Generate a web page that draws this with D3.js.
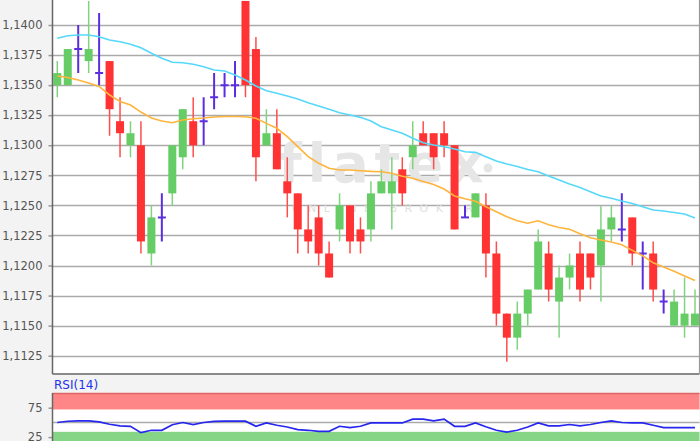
<!DOCTYPE html>
<html>
<head>
<meta charset="utf-8">
<script src="https://cdn.jsdelivr.net/npm/d3@7"></script>
<style>
  body { margin: 0; background: #f3f3f3; }
  svg { display: block; font-family: "DejaVu Sans", Verdana, sans-serif; }
</style>
</head>
<body>
<div id="chart"></div>
<script>
// candles (EUR/USD daily)
const opens  = [1.1350,1.1350,1.1380,1.1370,1.1360,1.1370,1.1320,1.1300,1.1300,1.1210,
                1.1240,1.1260,1.1290,1.1320,1.1320,1.1340,1.1350,1.1350,1.1420,1.1380,
                1.1300,1.1310,1.1270,1.1260,1.1230,1.1240,1.1210,1.1230,1.1250,1.1230,
                1.1230,1.1260,1.1260,1.1280,1.1290,1.1310,1.1310,1.1310,1.1300,1.1240,
                1.1240,1.1250,1.1210,1.1160,1.1140,1.1160,1.1180,1.1210,1.1170,1.1190,
                1.1210,1.1210,1.1200,1.1230,1.1230,1.1240,1.1210,1.1210,1.1170,1.1150,
                1.1150,1.1150];
const highs  = [1.1370,1.1380,1.1400,1.1420,1.1410,1.1370,1.1340,1.1320,1.1320,1.1250,
                1.1260,1.1300,1.1330,1.1340,1.1340,1.1360,1.1360,1.1370,1.1420,1.1390,
                1.1330,1.1330,1.1290,1.1260,1.1250,1.1250,1.1220,1.1260,1.1250,1.1240,
                1.1270,1.1280,1.1290,1.1290,1.1320,1.1320,1.1310,1.1320,1.1300,1.1250,
                1.1260,1.1260,1.1220,1.1160,1.1170,1.1180,1.1230,1.1220,1.1200,1.1210,
                1.1220,1.1210,1.1250,1.1250,1.1260,1.1240,1.1220,1.1220,1.1180,1.1180,
                1.1190,1.1180];
const lows   = [1.1340,1.1350,1.1360,1.1360,1.1350,1.1308,1.1290,1.1290,1.1210,1.1200,
                1.1220,1.1250,1.1280,1.1290,1.1300,1.1330,1.1340,1.1340,1.1340,1.1270,
                1.1300,1.1280,1.1240,1.1210,1.1210,1.1200,1.1190,1.1220,1.1210,1.1210,
                1.1220,1.1260,1.1230,1.1250,1.1280,1.1300,1.1280,1.1290,1.1230,1.1240,
                1.1240,1.1190,1.1150,1.1120,1.1130,1.1150,1.1180,1.1170,1.1140,1.1180,
                1.1170,1.1180,1.1170,1.1220,1.1220,1.1200,1.1180,1.1170,1.1160,1.1150,
                1.1140,1.1150];
const closes = [1.1360,1.1380,1.1380,1.1380,1.1360,1.1330,1.1310,1.1310,1.1220,1.1240,
                1.1240,1.1300,1.1330,1.1300,1.1320,1.1340,1.1350,1.1350,1.1350,1.1290,
                1.1310,1.1280,1.1260,1.1230,1.1220,1.1210,1.1190,1.1250,1.1220,1.1220,
                1.1260,1.1270,1.1270,1.1260,1.1300,1.1300,1.1290,1.1300,1.1230,1.1240,
                1.1260,1.1210,1.1160,1.1140,1.1160,1.1180,1.1220,1.1180,1.1190,1.1200,
                1.1180,1.1190,1.1230,1.1240,1.1230,1.1210,1.1210,1.1180,1.1170,1.1170,
                1.1160,1.1160];

// moving averages
const maSlow = [1.13889,1.13911,1.13917,1.13917,1.13903,1.13875,1.13861,1.13840,1.13811,1.13765,
                1.13723,1.13690,1.13686,1.13673,1.13653,1.13626,1.13617,1.13584,1.13543,1.13493,
                1.13454,1.13432,1.13410,1.13385,1.13354,1.13326,1.13299,1.13271,1.13252,1.13232,
                1.13202,1.13154,1.13127,1.13099,1.13058,1.13021,1.13002,1.12988,1.12969,1.12946,
                1.12941,1.12905,1.12869,1.12844,1.12823,1.12798,1.12780,1.12744,1.12711,1.12678,
                1.12649,1.12614,1.12578,1.12559,1.12536,1.12516,1.12489,1.12461,1.12453,1.12441,
                1.12428,1.12395];
const maFast = [1.13576,1.13563,1.13543,1.13518,1.13489,1.13418,1.13364,1.13335,1.13276,1.13227,
                1.13202,1.13187,1.13210,1.13221,1.13227,1.13235,1.13239,1.13239,1.13237,1.13224,
                1.13182,1.13141,1.13071,1.12988,1.12905,1.12850,1.12808,1.12794,1.12794,1.12788,
                1.12783,1.12780,1.12767,1.12742,1.12725,1.12698,1.12673,1.12636,1.12578,1.12555,
                1.12535,1.12489,1.12447,1.12406,1.12372,1.12351,1.12372,1.12339,1.12316,1.12301,
                1.12264,1.12230,1.12212,1.12195,1.12173,1.12126,1.12081,1.12022,1.11987,1.11952,
                1.11913,1.11875];

// RSI(14)
const rsi = [49.8,52.0,52.6,52.6,50.9,46.9,44.0,43.4,32.6,36.6,
             36.6,46.0,49.8,46.4,49.8,51.6,52.1,52.1,52.1,43.4,
             49.1,45.2,42.2,37.8,36.6,34.8,34.8,43.4,41.2,43.4,
             49.1,49.1,49.1,49.1,55.5,55.5,52.6,55.5,43.4,43.4,
             49.1,42.6,36.6,33.6,36.6,42.2,49.1,44.0,44.0,46.4,
             44.0,46.4,49.8,52.6,49.8,49.1,49.1,45.2,41.2,41.2,
             41.2,41.2];

const priceTicks = [1.1125,1.1150,1.1175,1.1200,1.1225,1.1250,1.1275,1.1300,1.1325,1.1350,1.1375,1.1400,1.1425];
const rsiTicks = [25, 75];
const rsiLabel = "RSI(14)";

const W = 700, H = 441;
const plotL = 52.5, plotR = 699.5, plotTop = -20, plotBot = 374;
const rsiTop = 393, rsiBot = 470;

const svg = d3.select("#chart").append("svg")
  .attr("width", W).attr("height", H);

svg.append("rect").attr("width", W).attr("height", H).attr("fill", "#f3f3f3");

const locale = d3.formatLocale({decimal: ",", thousands: ".", grouping: [3], currency: ["", ""]});
const fmt = locale.format(".4f");

const x = d3.scaleLinear().domain([0, opens.length - 1]).range([57.3, 695]);
const y = d3.scaleLinear().domain([1.1125, 1.1400]).range([355.7, 25]);

// main panel
svg.append("defs").append("clipPath").attr("id", "clipMain")
  .append("rect").attr("x", plotL).attr("y", plotTop).attr("width", plotR - plotL).attr("height", plotBot - plotTop);

svg.append("rect").attr("x", plotL).attr("y", plotTop)
  .attr("width", plotR - plotL).attr("height", plotBot - plotTop).attr("fill", "#fff");

svg.append("g").selectAll("line").data(priceTicks).enter().append("line")
  .attr("x1", plotL).attr("x2", plotR)
  .attr("y1", d => Math.round(y(d)) + 0.5).attr("y2", d => Math.round(y(d)) + 0.5)
  .attr("stroke", "#aaa").attr("stroke-width", 1.6);

// watermark
const wm = svg.append("g").attr("clip-path", "url(#clipMain)");
wm.append("text").attr("x", 384).attr("y", 182).attr("text-anchor", "middle")
  .attr("font-size", 54).attr("font-weight", "bold").attr("letter-spacing", 6)
  .attr("fill", "#e6e6e6").text("flatex");
wm.append("circle").attr("cx", 488).attr("cy", 168).attr("r", 4.5).attr("fill", "#e6e6e6");
wm.append("text").attr("x", 386).attr("y", 212).attr("text-anchor", "middle")
  .attr("font-size", 11).attr("letter-spacing", 7.5)
  .attr("fill", "#dedede").text("ONLINE BROKER");

const yAxis = svg.append("g").attr("transform", `translate(${plotL},0)`)
  .call(d3.axisLeft(y).tickValues(priceTicks).tickSize(4).tickPadding(6).tickFormat(fmt));
yAxis.select(".domain").remove();
yAxis.selectAll("line").attr("stroke", "#999").attr("stroke-width", 1.5);
yAxis.selectAll("text").attr("fill", "#555").attr("font-size", 11.5)
  .attr("font-family", "DejaVu Sans, sans-serif");

// candles and moving averages
const lineMain = svg.append("g").attr("clip-path", "url(#clipMain)");

const candles = lineMain.selectAll("g.c").data(opens.map((o, i) => i)).enter().append("g");
const bodyW = 8;
const col = i => closes[i] > opens[i] ? "up" : closes[i] < opens[i] ? "down" : "flat";
const bodyFill = {up: "#66cc66", down: "#ff3333", flat: "#5b2ee0"};
const wickFill = {up: "#80d480", down: "#ff4d4d", flat: "#5b2ee0"};

candles.append("line")
  .attr("x1", i => x(i)).attr("x2", i => x(i))
  .attr("y1", i => y(highs[i])).attr("y2", i => y(lows[i]))
  .attr("stroke", i => wickFill[col(i)])
  .attr("stroke-width", i => col(i) === "flat" ? 2 : 1.5);

candles.filter(i => col(i) !== "flat").append("rect")
  .attr("x", i => x(i) - bodyW / 2).attr("width", bodyW)
  .attr("y", i => y(Math.max(opens[i], closes[i])))
  .attr("height", i => y(Math.min(opens[i], closes[i])) - y(Math.max(opens[i], closes[i])))
  .attr("fill", i => bodyFill[col(i)]);

candles.filter(i => col(i) === "flat").append("line")
  .attr("x1", i => x(i) - bodyW / 2).attr("x2", i => x(i) + bodyW / 2)
  .attr("y1", i => y(closes[i])).attr("y2", i => y(closes[i]))
  .attr("stroke", bodyFill.flat).attr("stroke-width", 2);

const maLine = arr => d3.line().x((d, i) => x(i)).y(d => y(d))(arr);
lineMain.append("path").attr("d", maLine(maSlow)).attr("fill", "none")
  .attr("stroke", "#55d8fa").attr("stroke-width", 1.6);
lineMain.append("path").attr("d", maLine(maFast)).attr("fill", "none")
  .attr("stroke", "#ffb43c").attr("stroke-width", 1.6);

// frame
svg.append("line").attr("x1", plotL).attr("x2", plotL).attr("y1", plotTop).attr("y2", plotBot)
  .attr("stroke", "#666").attr("stroke-width", 1.5);
svg.append("line").attr("x1", plotL).attr("x2", plotR).attr("y1", plotBot).attr("y2", plotBot)
  .attr("stroke", "#666").attr("stroke-width", 1.5);
svg.append("line").attr("x1", plotR).attr("x2", plotR).attr("y1", plotTop).attr("y2", plotBot)
  .attr("stroke", "#999").attr("stroke-width", 1.2);

// RSI panel
const yr = d3.scaleLinear().domain([0, 100]).range([rsiTop + 100 * 0.588, rsiTop]);

svg.append("text").attr("x", 54).attr("y", 389).attr("fill", "#2233ee")
  .attr("font-size", 12).text(rsiLabel);

svg.append("rect").attr("x", plotL).attr("y", rsiTop).attr("width", plotR - plotL)
  .attr("height", rsiBot - rsiTop).attr("fill", "#fff");
svg.append("rect").attr("x", plotL).attr("y", yr(100)).attr("width", plotR - plotL)
  .attr("height", yr(72) - yr(100)).attr("fill", "#ff8686");
svg.append("rect").attr("x", plotL).attr("y", yr(34)).attr("width", plotR - plotL)
  .attr("height", rsiBot - yr(34)).attr("fill", "#86d486");
svg.append("line").attr("x1", plotL).attr("x2", plotR).attr("y1", yr(50)).attr("y2", yr(50))
  .attr("stroke", "#aaa").attr("stroke-width", 1.5);
svg.append("line").attr("x1", plotL).attr("x2", plotR).attr("y1", rsiTop + 0.5).attr("y2", rsiTop + 0.5)
  .attr("stroke", "#d66").attr("stroke-width", 1.5);

const rAxis = svg.append("g").attr("transform", `translate(${plotL},0)`)
  .call(d3.axisLeft(yr).tickValues(rsiTicks).tickSize(4).tickPadding(6));
rAxis.select(".domain").remove();
rAxis.selectAll("line").attr("stroke", "#999").attr("stroke-width", 1.5);
rAxis.selectAll("text").attr("fill", "#555").attr("font-size", 11.5)
  .attr("font-family", "DejaVu Sans, sans-serif");

svg.append("path").attr("d", d3.line().x((d, i) => x(i)).y(d => yr(d))(rsi))
  .attr("fill", "none").attr("stroke", "#2626ee").attr("stroke-width", 1.7);

svg.append("line").attr("x1", plotL).attr("x2", plotL).attr("y1", rsiTop).attr("y2", rsiBot)
  .attr("stroke", "#666").attr("stroke-width", 1.5);
</script>
</body>
</html>
